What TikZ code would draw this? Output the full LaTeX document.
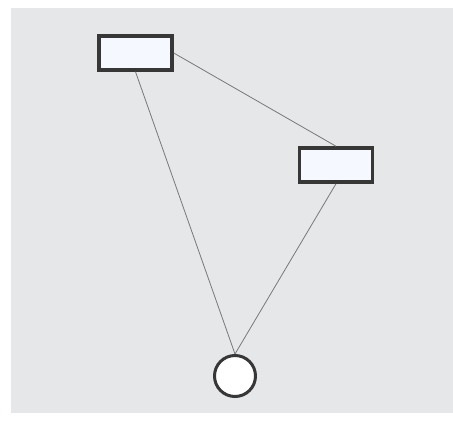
\documentclass[tikz,border=0pt]{standalone}
\definecolor{panelgray}{RGB}{229,231,233}
\definecolor{boxfill}{RGB}{246,248,255}
\definecolor{edgedark}{RGB}{55,55,55}
\definecolor{linkgray}{RGB}{120,120,122}
\begin{document}
\begin{tikzpicture}[x=1pt,y=-1pt,
  box/.style={draw=edgedark, line width=3.5pt, fill=boxfill, minimum width=73pt, minimum height=34pt, inner sep=0pt},
  ring/.style={circle, draw=edgedark, line width=3pt, fill=white, minimum size=41pt, inner sep=0pt},
  link/.style={draw=linkgray, line width=0.8pt}]
\useasboundingbox (0,0) rectangle (453,423);
\fill[white] (0,0) rectangle (453,423);
\fill[panelgray] (11,8) rectangle (453,413);
\node[box] (r1) at (135.5,53) {};
\node[box] (r2) at (336,165) {};
\node[ring] (c) at (235,376) {};
\draw[link] (r1.east) -- (r2.north);
\draw[link] (r1.south) -- (c.north);
\draw[link] (r2.south) -- (c.north);
\end{tikzpicture}
\end{document}
